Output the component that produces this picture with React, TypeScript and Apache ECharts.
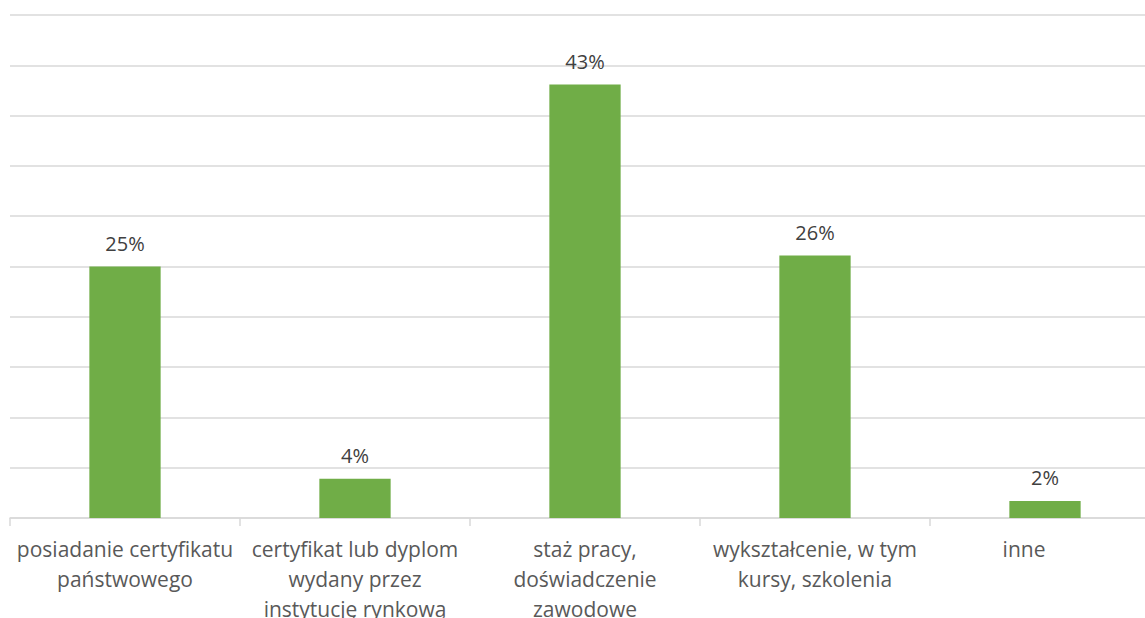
import React, { useEffect, useRef } from "react";
import * as echarts from "echarts";

const categories = [
  "posiadanie certyfikatu\npaństwowego",
  "certyfikat lub dyplom\nwydany przez\ninstytucję rynkową",
  "staż pracy,\ndoświadczenie\nzawodowe",
  "wykształcenie, w tym\nkursy, szkolenia",
  "inne",
];
const values = [25, 3.9, 43.1, 26.1, 1.7];
const labels = ["25%", "4%", "43%", "26%", "2%"];

export default function App() {
  const ref = useRef<HTMLDivElement>(null);
  useEffect(() => {
    document.body.style.margin = "0";
    document.documentElement.style.overflow = "hidden";
    document.body.style.overflow = "hidden";
    const chart = echarts.init(ref.current!, null, { renderer: "svg" });
    const catData = categories.map((c, i) =>
      i === categories.length - 1
        ? { value: c, textStyle: { padding: [0, 42, 0, 0] } }
        : c
    );
    chart.setOption({
      animation: false,
      textStyle: { fontFamily: "'Open Sans', sans-serif" },
      grid: {
        left: 10,
        top: 15,
        width: 1150,
        height: 503,
        containLabel: false,
        outerBoundsMode: "none",
      },
      xAxis: {
        type: "category",
        data: catData,
        axisLine: { show: true, lineStyle: { color: "#d9d9d9", width: 1.5 } },
        axisTick: { show: true, length: 8, lineStyle: { color: "#d9d9d9", width: 1.5 } },
        axisLabel: {
          color: "#595959",
          fontSize: 21,
          lineHeight: 30,
          margin: 16,
          interval: 0,
        },
      },
      yAxis: {
        type: "value",
        min: 0,
        max: 50,
        interval: 5,
        axisLabel: { show: false },
        axisLine: { show: false },
        axisTick: { show: false },
        splitLine: { lineStyle: { color: "#d9d9d9", width: 1.5 } },
      },
      series: [
        {
          type: "bar",
          data: values,
          barWidth: "31%",
          itemStyle: { color: "#70ad47" },
          label: {
            show: true,
            position: "top",
            distance: 13,
            color: "#404040",
            fontSize: 20,
            formatter: (p: any) => labels[p.dataIndex],
          },
        },
      ],
    });
    return () => chart.dispose();
  }, []);
  return (
    <div style={{ width: 1145, height: 618, overflow: "hidden", background: "#fff" }}>
      <div ref={ref} style={{ width: 1145, height: 618 }} />
    </div>
  );
}
